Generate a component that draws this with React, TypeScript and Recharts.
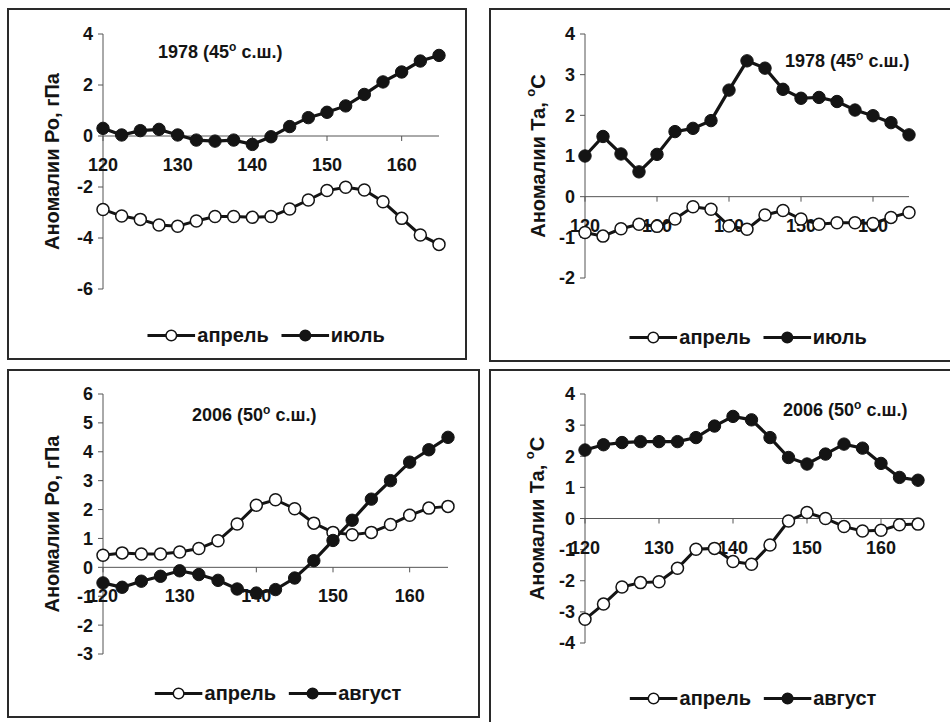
import React from "react";
import { LineChart, Line, XAxis, YAxis, ReferenceLine, ReferenceDot } from "recharts";

const longitudes = [120, 122.5, 125, 127.5, 130, 132.5, 135, 137.5, 140, 142.5, 145, 147.5, 150, 152.5, 155, 157.5, 160, 162.5, 165];
const lonTicks = [120, 130, 140, 150, 160];

// 1978, 45 N
const po1978Apr = [-2.88, -3.14, -3.27, -3.49, -3.54, -3.33, -3.16, -3.16, -3.19, -3.16, -2.86, -2.51, -2.14, -2.01, -2.12, -2.58, -3.23, -3.88, -4.25];
const po1978Jul = [0.3, 0.04, 0.21, 0.26, 0.04, -0.16, -0.2, -0.16, -0.33, -0.03, 0.37, 0.72, 0.93, 1.18, 1.63, 2.12, 2.51, 2.94, 3.16];
const ta1978Apr = [-0.88, -0.97, -0.79, -0.68, -0.73, -0.55, -0.25, -0.31, -0.72, -0.8, -0.45, -0.34, -0.55, -0.68, -0.64, -0.64, -0.66, -0.51, -0.39];
const ta1978Jul = [1.0, 1.48, 1.05, 0.61, 1.04, 1.6, 1.68, 1.87, 2.62, 3.34, 3.16, 2.64, 2.42, 2.44, 2.34, 2.13, 1.99, 1.82, 1.52];

// 2006, 50 N
const po2006Apr = [0.42, 0.5, 0.46, 0.46, 0.53, 0.65, 0.92, 1.5, 2.15, 2.34, 2.03, 1.53, 1.21, 1.13, 1.21, 1.48, 1.8, 2.05, 2.11];
const po2006Aug = [-0.54, -0.69, -0.48, -0.31, -0.12, -0.25, -0.45, -0.75, -0.89, -0.77, -0.37, 0.23, 0.93, 1.63, 2.36, 3.0, 3.64, 4.07, 4.5];
const ta2006Apr = [-3.24, -2.75, -2.2, -2.06, -2.03, -1.6, -0.99, -0.96, -1.38, -1.47, -0.85, -0.08, 0.19, 0.0, -0.26, -0.4, -0.38, -0.2, -0.18];
const ta2006Aug = [2.2, 2.37, 2.44, 2.47, 2.47, 2.47, 2.6, 2.97, 3.28, 3.17, 2.6, 1.96, 1.75, 2.07, 2.39, 2.26, 1.77, 1.32, 1.23];

const poTicks1978 = [-6, -4, -2, 0, 2, 4];
const taTicks1978 = [-2, -1, 0, 1, 2, 3, 4];
const poTicks2006 = [-3, -2, -1, 0, 1, 2, 3, 4, 5, 6];
const taTicks2006 = [-4, -3, -2, -1, 0, 1, 2, 3, 4];

const FONT = '"Liberation Sans", Arial, sans-serif';
const INK = "#141414";
const AXIS = "#555";

type PanelProps = {
  left: number;
  top: number;
  width: number;
  height: number;
  margin: { top: number; right: number; bottom: number; left: number };
  april: number[];
  summer: number[];
  summerName: string;
  yTicks: number[];
  yLabel: "po" | "ta";
  labelX: number;
  year: string;
  lat: string;
  titlePos: [number, number];
  legendPos: [number, number];
  frame: { w: number; h: number };
};

function LegendIcon({ open }: { open: boolean }) {
  return (
    <svg width={48} height={14} style={{ display: "block" }}>
      <line x1={0} y1={7} x2={48} y2={7} stroke={INK} strokeWidth={3} />
      <circle cx={24} cy={7} r={5.3} fill={open ? "#fff" : INK} stroke={INK} strokeWidth={1.5} />
    </svg>
  );
}

function Panel(p: PanelProps) {
  const data = longitudes.map((lon, i) => ({ lon, april: p.april[i], summer: p.summer[i] }));
  const yMin = p.yTicks[0];
  const yMax = p.yTicks[p.yTicks.length - 1];

  const renderLabel = (props: any) => {
    const vb = props.viewBox || { x: 0, y: 0, width: 0, height: 0 };
    const x = vb.x + p.labelX;
    const y = vb.y + vb.height / 2;
    return (
      <text
        x={x}
        y={y}
        transform={`rotate(-90, ${x}, ${y})`}
        textAnchor="middle"
        dominantBaseline="central"
        fontFamily={FONT}
        fontWeight="bold"
        fontSize={20}
        fill={INK}
      >
        {p.yLabel === "po" ? (
          "Аномалии Ро, гПа"
        ) : (
          <>
            Аномалии Та,{" "}
            <tspan dy={-8} fontSize={13}>o</tspan>
            <tspan dy={8}>С</tspan>
          </>
        )}
      </text>
    );
  };

  return (
    <>
      <div
        style={{
          position: "absolute",
          left: p.left,
          top: p.top,
          width: p.frame.w,
          height: p.frame.h,
          border: "2px solid #2a2a2a",
          boxSizing: "border-box",
        }}
      />
      <div style={{ position: "absolute", left: p.left, top: p.top }}>
        <LineChart width={p.width} height={p.height} data={data} margin={p.margin}>
          <XAxis dataKey="lon" type="number" domain={[120, 165]} ticks={lonTicks} hide />
          <YAxis
            type="number"
            domain={[yMin, yMax]}
            ticks={p.yTicks}
            interval={0}
            width={96}
            axisLine={{ stroke: AXIS, strokeWidth: 1 }}
            tickLine={{ stroke: AXIS, strokeWidth: 1 }}
            tickSize={5}
            tickMargin={5}
            tick={{ fontFamily: FONT, fontWeight: "bold", fontSize: 18, fill: INK }}
            label={{ content: renderLabel }}
          />
          <ReferenceLine y={0} stroke={AXIS} strokeWidth={1} />
          {lonTicks.map((t) => (
            <ReferenceDot
              key={t}
              x={t}
              y={0}
              r={0}
              shape={(sp: any) => (
                <g>
                  <line x1={sp.cx} y1={sp.cy} x2={sp.cx} y2={sp.cy + 5} stroke={AXIS} strokeWidth={1} />
                  <text
                    x={sp.cx}
                    y={sp.cy + 35}
                    textAnchor="middle"
                    fontFamily={FONT}
                    fontWeight="bold"
                    fontSize={18}
                    fill={INK}
                  >
                    {t}
                  </text>
                </g>
              )}
            />
          ))}
          <Line
            dataKey="april"
            type="linear"
            stroke={INK}
            strokeWidth={3}
            dot={{ r: 6, fill: "#fff", stroke: INK, strokeWidth: 1.5 }}
            isAnimationActive={false}
          />
          <Line
            dataKey="summer"
            type="linear"
            stroke={INK}
            strokeWidth={3.2}
            dot={{ r: 6.2, fill: INK, stroke: INK, strokeWidth: 1 }}
            isAnimationActive={false}
          />
        </LineChart>
      </div>
      <div
        style={{
          position: "absolute",
          left: p.titlePos[0],
          top: p.titlePos[1],
          transform: "translateY(-50%)",
          fontFamily: FONT,
          fontWeight: "bold",
          fontSize: 18,
          color: INK,
          whiteSpace: "nowrap",
          lineHeight: "20px",
        }}
      >
        {p.year} ({p.lat}
        <span style={{ fontSize: 12, position: "relative", top: -7 }}>o</span> с.ш.)
      </div>
      <div
        style={{
          position: "absolute",
          left: p.legendPos[0],
          top: p.legendPos[1],
          transform: "translate(-50%, -50%)",
          display: "flex",
          alignItems: "center",
          fontFamily: FONT,
          fontWeight: "bold",
          fontSize: 20,
          color: INK,
          whiteSpace: "nowrap",
        }}
      >
        <LegendIcon open />
        <span style={{ marginLeft: 2 }}>апрель</span>
        <span style={{ marginLeft: 12 }}>
          <LegendIcon open={false} />
        </span>
        <span style={{ marginLeft: 2 }}>{p.summerName}</span>
      </div>
    </>
  );
}

export default function App() {
  return (
    <div
      style={{
        position: "absolute",
        left: 0,
        top: 0,
        width: 950,
        height: 722,
        overflow: "hidden",
        background: "#fff",
      }}
    >
      <Panel
        left={7}
        top={8}
        width={460}
        height={352}
        margin={{ top: 26, right: 28, bottom: 71, left: 0 }}
        frame={{ w: 460, h: 352 }}
        april={po1978Apr}
        summer={po1978Jul}
        summerName="июль"
        yTicks={poTicks1978}
        yLabel="po"
        labelX={45}
        year="1978"
        lat="45"
        titlePos={[158, 53]}
        legendPos={[266, 335]}
      />
      <Panel
        left={489}
        top={8}
        width={461}
        height={354}
        margin={{ top: 26, right: 41, bottom: 84, left: 0 }}
        frame={{ w: 470, h: 354 }}
        april={ta1978Apr}
        summer={ta1978Jul}
        summerName="июль"
        yTicks={taTicks1978}
        yLabel="ta"
        labelX={49}
        year="1978"
        lat="45"
        titlePos={[785, 62]}
        legendPos={[748, 337]}
      />
      <Panel
        left={7}
        top={369}
        width={473}
        height={349}
        margin={{ top: 25, right: 32, bottom: 64, left: 0 }}
        frame={{ w: 473, h: 349 }}
        april={po2006Apr}
        summer={po2006Aug}
        summerName="август"
        yTicks={poTicks2006}
        yLabel="po"
        labelX={45}
        year="2006"
        lat="50"
        titlePos={[192, 416]}
        legendPos={[278, 693]}
      />
      <Panel
        left={489}
        top={369}
        width={461}
        height={353}
        margin={{ top: 25, right: 32, bottom: 79, left: 0 }}
        frame={{ w: 470, h: 360 }}
        april={ta2006Apr}
        summer={ta2006Aug}
        summerName="август"
        yTicks={taTicks2006}
        yLabel="ta"
        labelX={48}
        year="2006"
        lat="50"
        titlePos={[783, 411]}
        legendPos={[753, 698]}
      />
    </div>
  );
}
